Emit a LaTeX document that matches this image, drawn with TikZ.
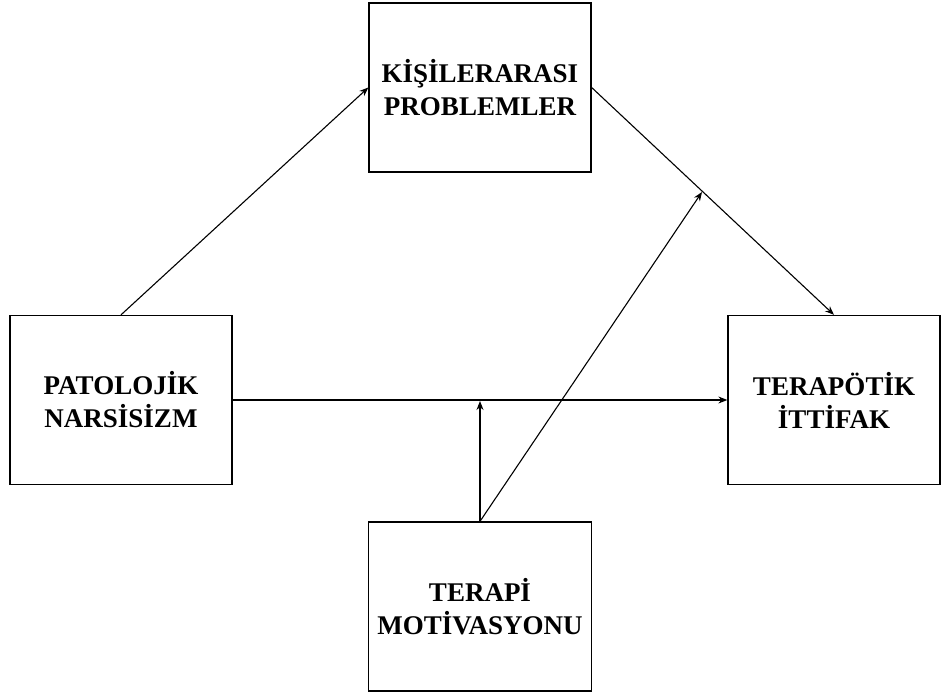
\documentclass[tikz,border=0pt]{standalone}
\usepackage{fontspec}
\setmainfont{Liberation Serif}
\usetikzlibrary{arrows.meta}
\begin{document}
\begin{tikzpicture}[x=1pt,y=-1pt,
  box/.style={draw, line width=1.3pt, minimum height=169pt, align=center,
    font=\fontsize{27}{33}\selectfont\bfseries, inner sep=0pt},
  link/.style={line width=1.1pt, -{Stealth[length=9pt,width=7pt]}}]
  \useasboundingbox (0,0) rectangle (943,698);
  \node[box, minimum width=222pt] (kp) at (480,87.5) {KİŞİLERARASI\\PROBLEMLER};
  \node[box, minimum width=222pt] (pn) at (121,400) {PATOLOJİK\\NARSİSİZM};
  \node[box, minimum width=212pt] (ti) at (834,400) {TERAPÖTİK\\İTTİFAK};
  \node[box, minimum width=223pt] (tm) at (480,606.5) {TERAPİ\\MOTİVASYONU};
  \coordinate (mod) at (480,401);
  \coordinate (mid) at (702,192);
  \draw[link] (pn.north) -- (kp.west);
  \draw[link] (kp.east) -- (ti.north);
  \draw[link] (pn.east) -- (ti.west);
  \draw[link] (tm.north) -- (mod);
  \draw[link] (tm.north) -- (mid);
\end{tikzpicture}
\end{document}
